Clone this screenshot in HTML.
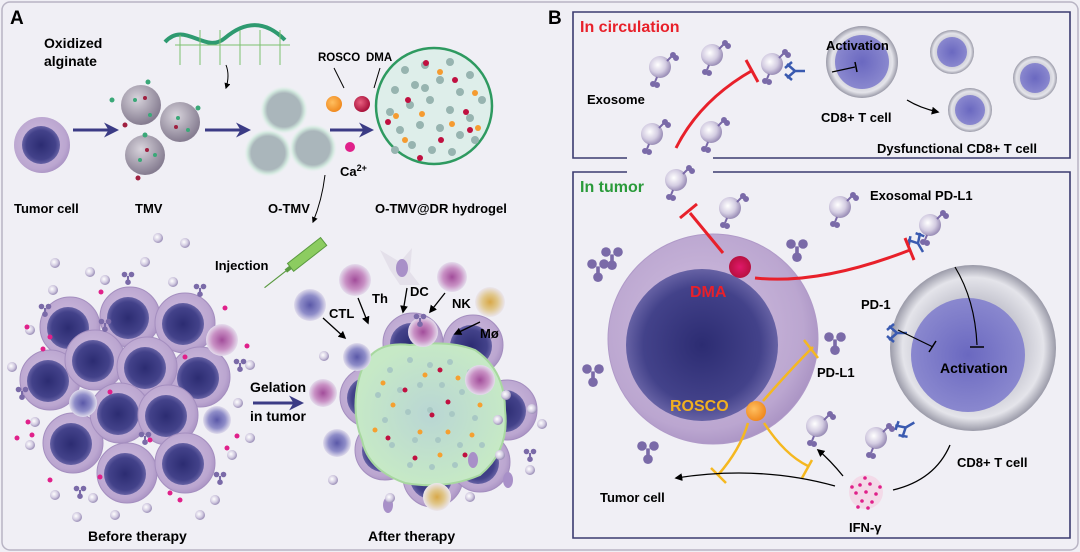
<!DOCTYPE html>
<html><head><meta charset="utf-8"><style>
html,body{margin:0;padding:0;background:#fff}
svg{display:block}
text{font-family:"Liberation Sans",Arial,sans-serif;font-weight:bold}
</style></head><body>
<svg width="1080" height="552" viewBox="0 0 1080 552" xmlns="http://www.w3.org/2000/svg">
<defs>
<radialGradient id="cb" cx="45%" cy="45%" r="60%"><stop offset="0" stop-color="#d2c0e0"/><stop offset="0.8" stop-color="#bba6d0"/><stop offset="1" stop-color="#a58ec0"/></radialGradient>
<radialGradient id="nu" cx="50%" cy="50%" r="55%"><stop offset="0" stop-color="#2c2c72"/><stop offset="0.7" stop-color="#43428a"/><stop offset="1" stop-color="#7670b0"/></radialGradient>
<radialGradient id="ex" cx="40%" cy="40%" r="60%"><stop offset="0" stop-color="#ffffff"/><stop offset="0.6" stop-color="#d4cde2"/><stop offset="1" stop-color="#9c90b8"/></radialGradient>
<radialGradient id="tc" cx="50%" cy="50%" r="50%"><stop offset="0.6" stop-color="#c8c8d2"/><stop offset="0.85" stop-color="#e4e4ea"/><stop offset="1" stop-color="#9a9aa8"/></radialGradient>
<radialGradient id="tn" cx="50%" cy="50%" r="55%"><stop offset="0" stop-color="#6a68c0"/><stop offset="1" stop-color="#8d8bd0"/></radialGradient>
<radialGradient id="tmv" cx="40%" cy="35%" r="65%"><stop offset="0" stop-color="#d8d4dc"/><stop offset="1" stop-color="#857c90"/></radialGradient>
<radialGradient id="ot" cx="50%" cy="50%" r="50%"><stop offset="0.7" stop-color="#aab6bb"/><stop offset="0.85" stop-color="#cfe6dc"/><stop offset="1" stop-color="#e6f3ee" stop-opacity="0"/></radialGradient>
<radialGradient id="gel" cx="50%" cy="50%" r="50%"><stop offset="0" stop-color="#b9d6d4"/><stop offset="1" stop-color="#c6e9c6"/></radialGradient>
<radialGradient id="imP" cx="50%" cy="50%" r="50%"><stop offset="0" stop-color="#a24d9a"/><stop offset="0.6" stop-color="#c890c4"/><stop offset="1" stop-color="#e4dcec"/></radialGradient>
<radialGradient id="imB" cx="50%" cy="50%" r="50%"><stop offset="0" stop-color="#5a58a8"/><stop offset="0.6" stop-color="#8e8cc8"/><stop offset="1" stop-color="#e0dcec"/></radialGradient>
<radialGradient id="imY" cx="50%" cy="50%" r="50%"><stop offset="0" stop-color="#d8a848"/><stop offset="0.5" stop-color="#e0c68a"/><stop offset="1" stop-color="#ebe6ee"/></radialGradient>
<radialGradient id="dma" cx="50%" cy="50%" r="50%"><stop offset="0" stop-color="#e0186a"/><stop offset="1" stop-color="#b81040"/></radialGradient>
<radialGradient id="ros" cx="40%" cy="40%" r="60%"><stop offset="0" stop-color="#ffbf60"/><stop offset="1" stop-color="#f08a20"/></radialGradient>
<radialGradient id="dm2" cx="40%" cy="40%" r="60%"><stop offset="0" stop-color="#e86080"/><stop offset="1" stop-color="#a8103a"/></radialGradient>
<g id="cell"><circle r="30" fill="url(#cb)" stroke="#a48ebf" stroke-width="1"/><circle r="21" cx="-2" cy="1" fill="url(#nu)"/></g>
<g id="exo"><circle r="11" fill="url(#ex)"/><g stroke="#7a6aa8" stroke-width="2" fill="#7a6aa8"><line x1="7" y1="-6" x2="12" y2="-11"/><circle cx="13" cy="-12" r="2"/><circle cx="16" cy="-9" r="2"/><line x1="-3" y1="10" x2="-5" y2="15"/><circle cx="-7" cy="17" r="2"/><circle cx="-3" cy="18" r="2"/></g></g>
<g id="lig" fill="#7a6aa8"><circle cx="-5" cy="-5" r="4"/><circle cx="5" cy="-5" r="4"/><circle cx="0" cy="6" r="4"/><rect x="-1.5" y="-3" width="3" height="8"/></g>
<g id="ab" stroke="#3a5ab0" stroke-width="2.5" fill="none"><path d="M0 0 L10 0 M10 0 L18 -7 M10 0 L18 7 M13 -9 L20 -3 M13 9 L20 3"/></g>
<g id="sm"><circle r="5" fill="url(#ex)"/></g>
<marker id="ah" viewBox="0 0 10 10" refX="8" refY="5" markerWidth="6" markerHeight="6" orient="auto"><path d="M0 0 L10 5 L0 10 z" fill="#000"/></marker>
<marker id="bh" viewBox="0 0 10 10" refX="6" refY="5" markerWidth="5" markerHeight="5" orient="auto"><path d="M0 0 L10 5 L0 10 L3 5z" fill="#3b3b85"/></marker>
</defs>

<rect width="1080" height="552" fill="#f0eff5"/>
<rect x="2" y="2" width="1076" height="548" rx="8" fill="none" stroke="#b8b4c4" stroke-width="1.5"/>

<!-- Panel A -->
<text x="10" y="24" font-size="19">A</text>
<text x="44" y="48" font-size="14">Oxidized</text>
<text x="44" y="66" font-size="14">alginate</text>
<path d="M165 42 C185 20,205 55,225 38 S265 20,285 40" stroke="#2e9a70" stroke-width="4" fill="none"/>
<g stroke="#7cc070" stroke-width="1"><path d="M175 45 L290 45 M180 35 L180 65 M200 30 L200 65 M220 30 L220 65 M240 30 L240 65 M260 30 L260 65 M280 30 L280 65"/></g>
<path d="M226 65 Q230 75 226 88" stroke="#000" fill="none" marker-end="url(#ah)"/>

<g transform="translate(42,145)"><circle r="28" fill="url(#cb)"/><circle r="19" cx="-1" fill="url(#nu)"/></g>
<text x="14" y="213" font-size="13">Tumor cell</text>
<line x1="73" y1="130" x2="113" y2="130" stroke="#3b3b85" stroke-width="3" marker-end="url(#bh)"/>
<g fill="url(#tmv)"><circle cx="141" cy="105" r="20"/><circle cx="180" cy="122" r="20"/><circle cx="145" cy="155" r="20"/></g>
<g fill="#3aa878"><circle cx="135" cy="100" r="2"/><circle cx="150" cy="115" r="2"/><circle cx="178" cy="118" r="2"/><circle cx="188" cy="130" r="2"/><circle cx="140" cy="160" r="2"/><circle cx="155" cy="155" r="2"/><circle cx="112" cy="100" r="2.5"/><circle cx="148" cy="82" r="2.5"/><circle cx="198" cy="108" r="2.5"/><circle cx="145" cy="135" r="2.5"/></g>
<g fill="#a02040"><circle cx="145" cy="98" r="2"/><circle cx="176" cy="127" r="2"/><circle cx="147" cy="150" r="2"/><circle cx="125" cy="125" r="2.5"/><circle cx="138" cy="178" r="2.5"/></g>
<text x="135" y="213" font-size="13">TMV</text>
<line x1="205" y1="130" x2="245" y2="130" stroke="#3b3b85" stroke-width="3" marker-end="url(#bh)"/>
<g><circle cx="284" cy="110" r="24" fill="url(#ot)"/><circle cx="268" cy="153" r="24" fill="url(#ot)"/><circle cx="313" cy="148" r="24" fill="url(#ot)"/></g>
<text x="268" y="213" font-size="13">O-TMV</text>
<path d="M325 175 Q322 200 313 222" stroke="#000" fill="none" marker-end="url(#ah)"/>
<text x="318" y="61" font-size="11.5">ROSCO</text><text x="366" y="61" font-size="11.5">DMA</text>
<line x1="334" y1="68" x2="344" y2="88" stroke="#000"/><line x1="380" y1="68" x2="374" y2="88" stroke="#000"/>
<circle cx="334" cy="104" r="8" fill="url(#ros)"/><circle cx="362" cy="104" r="8" fill="url(#dm2)"/>
<line x1="330" y1="130" x2="368" y2="130" stroke="#3b3b85" stroke-width="3" marker-end="url(#bh)"/>
<circle cx="350" cy="147" r="5" fill="#e0208a"/>
<text x="340" y="176" font-size="13">Ca<tspan font-size="9" dy="-5">2+</tspan></text>
<circle cx="434" cy="106" r="58" fill="#deeeea" stroke="#2e9a60" stroke-width="2.5"/>
<g fill="#97b4b0">
<circle cx="405" cy="70" r="4"/><circle cx="425" cy="65" r="4"/><circle cx="450" cy="62" r="4"/><circle cx="470" cy="75" r="4"/><circle cx="395" cy="90" r="4"/><circle cx="415" cy="85" r="4"/><circle cx="440" cy="80" r="4"/><circle cx="460" cy="92" r="4"/><circle cx="482" cy="100" r="4"/><circle cx="390" cy="112" r="4"/><circle cx="410" cy="105" r="4"/><circle cx="430" cy="100" r="4"/><circle cx="450" cy="110" r="4"/><circle cx="470" cy="118" r="4"/><circle cx="400" cy="130" r="4"/><circle cx="420" cy="125" r="4"/><circle cx="440" cy="128" r="4"/><circle cx="460" cy="135" r="4"/><circle cx="412" cy="145" r="4"/><circle cx="432" cy="150" r="4"/><circle cx="452" cy="152" r="4"/><circle cx="475" cy="140" r="4"/><circle cx="425" cy="88" r="4"/><circle cx="395" cy="150" r="4"/></g>
<g fill="#c01040"><circle cx="426" cy="63" r="3"/><circle cx="408" cy="100" r="3"/><circle cx="388" cy="122" r="3"/><circle cx="466" cy="112" r="3"/><circle cx="441" cy="140" r="3"/><circle cx="470" cy="130" r="3"/><circle cx="455" cy="80" r="3"/><circle cx="420" cy="158" r="3"/></g>
<g fill="#f59b30"><circle cx="396" cy="116" r="3"/><circle cx="440" cy="72" r="3"/><circle cx="475" cy="93" r="3"/><circle cx="422" cy="114" r="3"/><circle cx="452" cy="124" r="3"/><circle cx="405" cy="140" r="3"/><circle cx="478" cy="128" r="3"/></g>
<text x="375" y="213" font-size="13">O-TMV@DR hydrogel</text>

<!-- syringe -->
<g transform="translate(300,260) rotate(-38)"><rect x="-12" y="-5" width="42" height="10" fill="#8ccc60" stroke="#5a9a40"/><rect x="-18" y="-2" width="6" height="4" fill="#5a9a40"/><line x1="-18" y1="0" x2="-45" y2="0" stroke="#5a9a40" stroke-width="1.2"/></g>
<text x="215" y="270" font-size="13">Injection</text>

<!-- Before therapy -->
<g>
<use href="#cell" x="70" y="327"/><use href="#cell" x="130" y="317"/><use href="#cell" x="185" y="323"/>
<use href="#cell" x="50" y="380"/><use href="#cell" x="200" y="377"/><use href="#cell" x="95" y="360"/><use href="#cell" x="147" y="367"/>
<use href="#cell" x="73" y="443"/><use href="#cell" x="120" y="413"/><use href="#cell" x="168" y="415"/>
<use href="#cell" x="127" y="473"/><use href="#cell" x="185" y="463"/>
<circle cx="222" cy="340" r="16" fill="url(#imP)"/><circle cx="83" cy="403" r="14" fill="url(#imB)"/><circle cx="217" cy="420" r="14" fill="url(#imB)"/>
</g>
<g fill="url(#ex)"><use href="#sm" x="158" y="238"/><use href="#sm" x="185" y="243"/><use href="#sm" x="55" y="263"/><use href="#sm" x="90" y="272"/><use href="#sm" x="145" y="262"/><use href="#sm" x="53" y="290"/><use href="#sm" x="105" y="280"/><use href="#sm" x="173" y="282"/><use href="#sm" x="30" y="330"/><use href="#sm" x="12" y="367"/><use href="#sm" x="250" y="365"/><use href="#sm" x="238" y="403"/><use href="#sm" x="35" y="422"/><use href="#sm" x="30" y="445"/><use href="#sm" x="250" y="438"/><use href="#sm" x="232" y="455"/><use href="#sm" x="55" y="495"/><use href="#sm" x="93" y="498"/><use href="#sm" x="147" y="508"/><use href="#sm" x="77" y="517"/><use href="#sm" x="115" y="515"/><use href="#sm" x="200" y="515"/><use href="#sm" x="215" y="500"/></g>
<g fill="#e0208a"><circle cx="101" cy="292" r="2.5"/><circle cx="27" cy="327" r="2.5"/><circle cx="50" cy="337" r="2.5"/><circle cx="43" cy="349" r="2.5"/><circle cx="225" cy="308" r="2.5"/><circle cx="247" cy="346" r="2.5"/><circle cx="185" cy="357" r="2.5"/><circle cx="110" cy="392" r="2.5"/><circle cx="28" cy="422" r="2.5"/><circle cx="32" cy="435" r="2.5"/><circle cx="17" cy="438" r="2.5"/><circle cx="237" cy="436" r="2.5"/><circle cx="150" cy="440" r="2.5"/><circle cx="227" cy="448" r="2.5"/><circle cx="50" cy="480" r="2.5"/><circle cx="100" cy="477" r="2.5"/><circle cx="170" cy="493" r="2.5"/><circle cx="180" cy="500" r="2.5"/></g>
<use href="#lig" transform="translate(128,278) scale(0.7)"/><use href="#lig" transform="translate(200,290) scale(0.7)"/><use href="#lig" transform="translate(45,310) scale(0.7)"/><use href="#lig" transform="translate(105,325) scale(0.7)"/><use href="#lig" transform="translate(240,365) scale(0.7)"/><use href="#lig" transform="translate(22,393) scale(0.7)"/><use href="#lig" transform="translate(145,438) scale(0.7)"/><use href="#lig" transform="translate(80,492) scale(0.7)"/><use href="#lig" transform="translate(220,478) scale(0.7)"/>
<text x="88" y="541" font-size="14">Before therapy</text>

<line x1="253" y1="403" x2="298" y2="403" stroke="#3b3b85" stroke-width="3" marker-end="url(#bh)"/>
<text x="250" y="392" font-size="14">Gelation</text>
<text x="250" y="421" font-size="14">in tumor</text>

<!-- After therapy -->
<g>
<use href="#cell" x="413" y="343"/><use href="#cell" x="473" y="345"/><use href="#cell" x="370" y="397"/><use href="#cell" x="507" y="410"/><use href="#cell" x="385" y="450"/><use href="#cell" x="433" y="477"/><use href="#cell" x="480" y="462"/>
</g>
<path d="M360 375 Q370 340 410 345 Q450 340 475 350 Q505 370 505 410 Q510 450 480 475 Q445 490 405 483 Q368 470 362 440 Q350 410 360 375Z" fill="url(#gel)" stroke="#a8d8a0" stroke-width="2"/>
<g fill="#a8c8c4"><circle cx="390" cy="370" r="3"/><circle cx="410" cy="360" r="3"/><circle cx="430" cy="365" r="3"/><circle cx="450" cy="362" r="3"/><circle cx="470" cy="372" r="3"/><circle cx="485" cy="390" r="3"/><circle cx="378" cy="395" r="3"/><circle cx="400" cy="390" r="3"/><circle cx="420" cy="385" r="3"/><circle cx="442" cy="385" r="3"/><circle cx="462" cy="392" r="3"/><circle cx="385" cy="420" r="3"/><circle cx="408" cy="412" r="3"/><circle cx="430" cy="410" r="3"/><circle cx="452" cy="414" r="3"/><circle cx="475" cy="418" r="3"/><circle cx="392" cy="445" r="3"/><circle cx="415" cy="440" r="3"/><circle cx="438" cy="440" r="3"/><circle cx="460" cy="445" r="3"/><circle cx="482" cy="445" r="3"/><circle cx="410" cy="465" r="3"/><circle cx="432" cy="467" r="3"/><circle cx="455" cy="465" r="3"/></g>
<g fill="#f5a030"><circle cx="383" cy="383" r="2.5"/><circle cx="425" cy="375" r="2.5"/><circle cx="458" cy="378" r="2.5"/><circle cx="480" cy="405" r="2.5"/><circle cx="393" cy="405" r="2.5"/><circle cx="420" cy="432" r="2.5"/><circle cx="375" cy="430" r="2.5"/><circle cx="448" cy="432" r="2.5"/><circle cx="472" cy="435" r="2.5"/><circle cx="440" cy="455" r="2.5"/></g>
<g fill="#c01040"><circle cx="405" cy="390" r="2.5"/><circle cx="448" cy="402" r="2.5"/><circle cx="432" cy="415" r="2.5"/><circle cx="388" cy="438" r="2.5"/><circle cx="465" cy="455" r="2.5"/><circle cx="415" cy="458" r="2.5"/><circle cx="440" cy="370" r="2.5"/></g>
<circle cx="310" cy="305" r="16" fill="url(#imB)"/><circle cx="355" cy="280" r="16" fill="url(#imP)"/>
<path d="M390 270 L380 250 L400 262 L412 248 L410 272 L420 285 L400 285 Z" fill="#e4e0ea"/><ellipse cx="402" cy="268" rx="6" ry="9" fill="#a890c8"/>
<circle cx="452" cy="277" r="15" fill="url(#imP)"/><circle cx="490" cy="302" r="15" fill="url(#imY)"/>
<circle cx="357" cy="357" r="14" fill="url(#imB)"/><circle cx="423" cy="332" r="15" fill="url(#imP)"/><circle cx="323" cy="393" r="14" fill="url(#imP)"/><circle cx="480" cy="380" r="15" fill="url(#imP)"/><circle cx="337" cy="443" r="14" fill="url(#imB)"/><circle cx="437" cy="497" r="14" fill="url(#imY)"/>
<ellipse cx="473" cy="460" rx="5" ry="8" fill="#a890c8"/><ellipse cx="508" cy="480" rx="5" ry="8" fill="#a890c8"/><ellipse cx="388" cy="505" rx="5" ry="8" fill="#a890c8"/>
<use href="#lig" transform="translate(420,320) scale(0.7)"/><use href="#lig" transform="translate(530,455) scale(0.7)"/>
<g><use href="#sm" x="324" y="356"/><use href="#sm" x="506" y="395"/><use href="#sm" x="498" y="420"/><use href="#sm" x="532" y="409"/><use href="#sm" x="500" y="455"/><use href="#sm" x="530" y="470"/><use href="#sm" x="333" y="480"/><use href="#sm" x="390" y="498"/><use href="#sm" x="470" y="497"/><use href="#sm" x="542" y="424"/></g>
<g stroke="#000" stroke-width="1.3" fill="none"><path d="M323 318 L345 338" marker-end="url(#ah)"/><path d="M358 298 L368 323" marker-end="url(#ah)"/><path d="M407 288 L403 312" marker-end="url(#ah)"/><path d="M445 293 L430 312" marker-end="url(#ah)"/><path d="M480 322 L455 334" marker-end="url(#ah)"/></g>
<text x="329" y="318" font-size="13">CTL</text><text x="372" y="303" font-size="13">Th</text><text x="410" y="296" font-size="13">DC</text><text x="452" y="308" font-size="13">NK</text><text x="480" y="338" font-size="13">Mø</text>
<text x="368" y="541" font-size="14">After therapy</text>

<!-- Panel B -->
<text x="548" y="24" font-size="19">B</text>
<path d="M627 158 L573 158 L573 12 L1070 12 L1070 158 L713 158" fill="none" stroke="#3b3b70" stroke-width="1.6"/>
<path d="M627 172 L573 172 L573 538 L1070 538 L1070 172 L713 172" fill="none" stroke="#3b3b70" stroke-width="1.6"/>
<text x="580" y="32" font-size="16" fill="#e8202a">In circulation</text>
<text x="580" y="192" font-size="16" fill="#2a9a3a">In tumor</text>

<!-- circulation -->
<use href="#exo" x="660" y="67"/><use href="#exo" x="712" y="55"/><use href="#exo" x="772" y="64"/><use href="#exo" x="652" y="134"/><use href="#exo" x="711" y="132"/><use href="#exo" x="676" y="180"/>
<text x="587" y="104" font-size="13">Exosome</text>
<path d="M676 148 Q700 100 753 70" stroke="#e8202a" stroke-width="3" fill="none"/><line x1="746" y1="60" x2="758" y2="82" stroke="#e8202a" stroke-width="3"/>
<use href="#ab" x="785" y="71" transform="rotate(180 795 71)"/>
<circle cx="862" cy="62" r="36" fill="url(#tc)"/><circle cx="862" cy="62" r="27" fill="url(#tn)"/>
<text x="826" y="50" font-size="13">Activation</text>
<path d="M832 72 L855 67" stroke="#000" stroke-width="1.2"/><line x1="855" y1="62" x2="857" y2="72" stroke="#000" stroke-width="1.5"/>
<text x="821" y="122" font-size="13">CD8+ T cell</text>
<path d="M907 100 Q920 108 938 112" stroke="#000" stroke-width="1.3" fill="none" marker-end="url(#ah)"/>
<circle cx="952" cy="52" r="22" fill="url(#tc)"/><circle cx="952" cy="52" r="15" fill="url(#tn)"/>
<circle cx="1035" cy="78" r="22" fill="url(#tc)"/><circle cx="1035" cy="78" r="15" fill="url(#tn)"/>
<circle cx="970" cy="110" r="22" fill="url(#tc)"/><circle cx="970" cy="110" r="15" fill="url(#tn)"/>
<text x="877" y="153" font-size="13">Dysfunctional CD8+ T cell</text>

<!-- tumor -->
<use href="#exo" x="730" y="208"/><use href="#exo" x="840" y="207"/><use href="#exo" x="930" y="225"/><use href="#exo" x="817" y="426"/><use href="#exo" x="876" y="438"/>
<text x="870" y="200" font-size="13">Exosomal PD-L1</text>
<circle cx="713" cy="339" r="105" fill="url(#cb)" stroke="#b09ac8"/>
<circle cx="702" cy="345" r="76" fill="url(#nu)"/>
<circle cx="973" cy="348" r="83" fill="url(#tc)"/>
<circle cx="968" cy="355" r="57" fill="url(#tn)"/>
<use href="#lig" transform="translate(612,258) scale(1.2)"/><use href="#lig" transform="translate(598,270) scale(1.2)"/><use href="#lig" transform="translate(593,375) scale(1.2)"/><use href="#lig" transform="translate(648,452) scale(1.2)"/><use href="#lig" transform="translate(797,250) scale(1.2)"/><use href="#lig" transform="translate(835,343) scale(1.2)"/>
<use href="#ab" x="893" y="333" transform="rotate(180 900 333)"/>
<use href="#ab" x="923" y="252" transform="rotate(-120 923 252)"/>
<use href="#ab" x="905" y="425" transform="rotate(150 910 425)"/>
<circle cx="740" cy="267" r="11" fill="url(#dma)"/>
<text x="690" y="297" font-size="16" fill="#e8202a">DMA</text>
<path d="M723 253 L690 213" stroke="#e8202a" stroke-width="3"/><line x1="680" y1="218" x2="697" y2="204" stroke="#e8202a" stroke-width="3"/>
<path d="M755 278 Q820 285 910 250" stroke="#e8202a" stroke-width="3" fill="none"/><line x1="905" y1="238" x2="914" y2="260" stroke="#e8202a" stroke-width="3"/>
<text x="861" y="309" font-size="13">PD-1</text>
<text x="817" y="377" font-size="13">PD-L1</text>
<path d="M898 330 L933 347" stroke="#000" stroke-width="1.2"/><line x1="929" y1="352" x2="936" y2="341" stroke="#000" stroke-width="1.5"/>
<path d="M955 267 Q975 300 977 345" stroke="#000" stroke-width="1.2" fill="none"/><line x1="970" y1="347" x2="984" y2="347" stroke="#000" stroke-width="1.5"/>
<text x="940" y="373" font-size="14">Activation</text>
<circle cx="756" cy="411" r="10" fill="url(#ros)"/>
<text x="670" y="411" font-size="16" fill="#f0b020">ROSCO</text>
<g stroke="#f5b820" stroke-width="2.5" fill="none"><path d="M763 401 Q790 370 813 347"/><line x1="804" y1="340" x2="818" y2="358"/>
<path d="M748 423 Q740 450 718 475"/><line x1="711" y1="468" x2="726" y2="483"/>
<path d="M764 423 Q785 455 808 466"/><line x1="802" y1="478" x2="812" y2="460"/></g>
<g stroke="#000" stroke-width="1.3" fill="none"><path d="M835 486 Q760 465 676 478" marker-end="url(#ah)"/><path d="M843 476 Q830 460 818 450" marker-end="url(#ah)"/><path d="M893 490 Q935 480 950 445"/></g>
<g fill="#e0208a"><circle cx="866" cy="492" r="17" fill="#f6c6dc" opacity="0.5"/><circle cx="860" cy="485" r="1.8"/><circle cx="870" cy="484" r="1.8"/><circle cx="856" cy="493" r="1.8"/><circle cx="866" cy="492" r="1.8"/><circle cx="876" cy="494" r="1.8"/><circle cx="862" cy="501" r="1.8"/><circle cx="872" cy="502" r="1.8"/><circle cx="865" cy="478" r="1.8"/><circle cx="852" cy="487" r="1.8"/><circle cx="880" cy="487" r="1.8"/><circle cx="858" cy="507" r="1.8"/><circle cx="868" cy="508" r="1.8"/></g>
<text x="849" y="532" font-size="13">IFN-γ</text>
<text x="600" y="502" font-size="13">Tumor cell</text>
<text x="957" y="467" font-size="13">CD8+ T cell</text>
</svg>
</body></html>
